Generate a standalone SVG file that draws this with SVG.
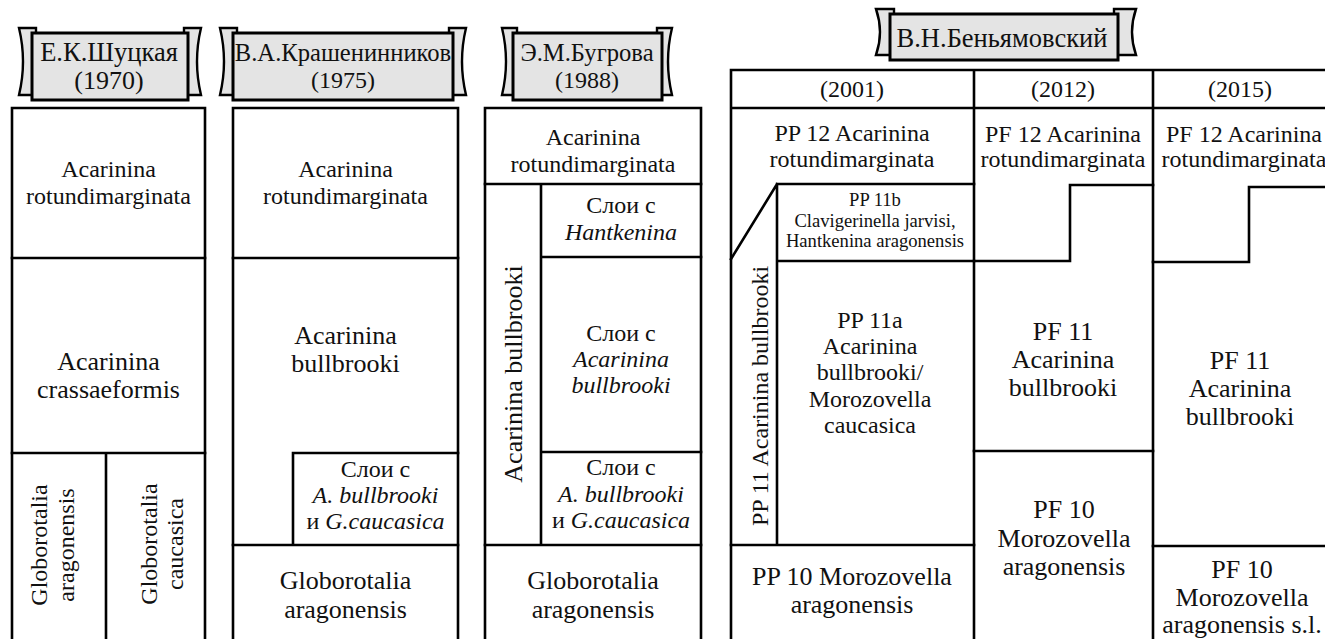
<svg xmlns="http://www.w3.org/2000/svg" width="1325" height="639" viewBox="0 0 1325 639">
  <defs>
    <style>
      .bg { fill: #ffffff; }
      .ln { fill: none; stroke: #000; stroke-width: 2.6; stroke-linecap: square; }
      .ribbon { fill: #e4e4e4; stroke: #000; stroke-width: 2.4; stroke-linejoin: miter; }
      .plate { fill: #e4e4e4; stroke: #000; stroke-width: 3; }
      text { font-family: "Liberation Serif", "Times New Roman", serif; font-size: 24px; fill: #111; text-anchor: middle; }
      text.lg { font-size: 26px; }
      text.sm { font-size: 18.6px; }
      .it { font-style: italic; }
    </style>
  </defs>
  <rect class="bg" x="0" y="0" width="1325" height="639"/>

  <!-- author banners: two notched tails behind a grey plate -->
  <g id="banner-shutskaya">
    <path class="ribbon" d="M19,28 L36,28 L36,95 L19,95 Q27,61.5 19,28 Z"/>
    <path class="ribbon" d="M201,28 L184,28 L184,95 L201,95 Q193,61.5 201,28 Z"/>
    <rect class="plate" x="32" y="33" width="156" height="67"/>
    <text x="109" y="61" style="font-size:26.5px">Е.К.Шуцкая</text>
    <text x="109" y="89" style="font-size:26px">(1970)</text>
  </g>
  <g id="banner-krasheninnikov">
    <path class="ribbon" d="M220,28 L237,28 L237,95 L220,95 Q228,61.5 220,28 Z"/>
    <path class="ribbon" d="M466,28 L449,28 L449,95 L466,95 Q458,61.5 466,28 Z"/>
    <rect class="plate" x="233" y="33" width="220" height="67"/>
    <text x="343" y="61" style="font-size:24.6px">В.А.Крашенинников</text>
    <text x="343" y="88">(1975)</text>
  </g>
  <g id="banner-bugrova">
    <path class="ribbon" d="M502,28 L517,28 L517,95 L502,95 Q510,61.5 502,28 Z"/>
    <path class="ribbon" d="M672,28 L657,28 L657,95 L672,95 Q664,61.5 672,28 Z"/>
    <rect class="plate" x="513" y="33" width="149" height="67"/>
    <text x="587" y="61" style="font-size:24.6px">Э.М.Бугрова</text>
    <text x="587" y="88">(1988)</text>
  </g>
  <g id="banner-benyamovsky">
    <path class="ribbon" d="M876,9 L894,9 L894,55 L876,55 Q884,32 876,9 Z"/>
    <path class="ribbon" d="M1136,9 L1114,9 L1114,55 L1136,55 Q1128,32 1136,9 Z"/>
    <rect class="plate" x="890" y="14" width="228" height="46"/>
    <text x="1002" y="47" style="font-size:26.5px">В.Н.Беньямовский</text>
  </g>

  <!-- zone boundaries -->
  <g id="connectors">
    <!-- column 1 -->
    <path class="ln" d="M12,645 L12,108 L205,108 L205,645"/>
    <path class="ln" d="M12,258 L205,258 M12,453 L205,453 M106,453 L106,645"/>
    <!-- column 2 -->
    <path class="ln" d="M233,645 L233,108 L458,108 L458,645"/>
    <path class="ln" d="M233,258 L458,258 M293,453 L458,453 M293,453 L293,545 M233,545 L458,545"/>
    <!-- column 3 -->
    <path class="ln" d="M485,645 L485,108 L701,108 L701,645"/>
    <path class="ln" d="M485,184 L701,184 M541,184 L541,545 M541,257 L701,257 M541,452 L701,452 M485,545 L701,545"/>
    <!-- column 4 frame and year header -->
    <path class="ln" d="M731,645 L731,70 L1335,70 M731,108 L1335,108 M974,70 L974,645 M1153,70 L1153,645"/>
    <!-- 2001 -->
    <path class="ln" d="M777,184 L974,184 M777,184 L777,545 M777,184 L731,259 M777,261 L974,261 M731,545 L974,545"/>
    <!-- 2012 -->
    <path class="ln" d="M974,261 L1070,261 L1070,185 L1153,185 M974,451 L1153,451"/>
    <!-- 2015 -->
    <path class="ln" d="M1153,262 L1249,262 L1249,187 L1335,187 M1153,546 L1335,546"/>
  </g>

  <g id="col-shutskaya">
    <text x="108.5" y="177">Acarinina</text>
    <text x="108.5" y="204">rotundimarginata</text>
    <text x="108.5" y="370" class="lg">Acarinina</text>
    <text x="108.5" y="398" class="lg">crassaeformis</text>
    <g transform="translate(47,545) rotate(-90)">
      <text x="0" y="0">Globorotalia</text>
      <text x="0" y="27">aragonensis</text>
    </g>
    <g transform="translate(157,544) rotate(-90)">
      <text x="0" y="0">Globorotalia</text>
      <text x="0" y="26">caucasica</text>
    </g>
  </g>

  <g id="col-krasheninnikov">
    <text x="345.5" y="177">Acarinina</text>
    <text x="345.5" y="204">rotundimarginata</text>
    <text x="345.5" y="344" class="lg">Acarinina</text>
    <text x="345.5" y="372" class="lg">bullbrooki</text>
    <text x="375.5" y="477">Слои с</text>
    <text x="375.5" y="503" class="it">A. bullbrooki</text>
    <text x="375.5" y="529">и <tspan class="it">G.caucasica</tspan></text>
    <text x="345.5" y="589" class="lg">Globorotalia</text>
    <text x="345.5" y="618" class="lg">aragonensis</text>
  </g>

  <g id="col-bugrova">
    <text x="593" y="145">Acarinina</text>
    <text x="593" y="172">rotundimarginata</text>
    <text x="621" y="213">Слои с</text>
    <text x="621" y="240" class="it">Hantkenina</text>
    <text x="621" y="341">Слои с</text>
    <text x="621" y="367" class="it">Acarinina</text>
    <text x="621" y="393" class="it">bullbrooki</text>
    <text x="621" y="475">Слои с</text>
    <text x="621" y="502" class="it">A. bullbrooki</text>
    <text x="621" y="528">и <tspan class="it">G.caucasica</tspan></text>
    <text x="593" y="589" class="lg">Globorotalia</text>
    <text x="593" y="618" class="lg">aragonensis</text>
    <text transform="translate(522,374) rotate(-90)" x="0" y="0" class="lg">Acarinina bullbrooki</text>
  </g>

  <g id="col-2001">
    <text x="852" y="97">(2001)</text>
    <text x="852" y="141">PP 12 Acarinina</text>
    <text x="852" y="167">rotundimarginata</text>
    <text x="875" y="206" class="sm">PP 11b</text>
    <text x="875" y="227" class="sm">Clavigerinella jarvisi,</text>
    <text x="875" y="247" class="sm">Hantkenina aragonensis</text>
    <text transform="translate(768,396) rotate(-90)" x="0" y="0">PP 11 Acarinina bullbrooki</text>
    <text x="870" y="328">PP 11a</text>
    <text x="870" y="354">Acarinina</text>
    <text x="870" y="380">bullbrooki/</text>
    <text x="870" y="407">Morozovella</text>
    <text x="870" y="433">caucasica</text>
    <text x="852" y="585" class="lg">PP 10 Morozovella</text>
    <text x="852" y="613" class="lg">aragonensis</text>
  </g>

  <g id="col-2012">
    <text x="1063" y="97">(2012)</text>
    <text x="1063" y="142">PF 12 Acarinina</text>
    <text x="1063" y="167">rotundimarginata</text>
    <text x="1063" y="340" class="lg">PF 11</text>
    <text x="1063" y="368" class="lg">Acarinina</text>
    <text x="1063" y="396" class="lg">bullbrooki</text>
    <text x="1064" y="518" class="lg">PF 10</text>
    <text x="1064" y="547" class="lg">Morozovella</text>
    <text x="1064" y="575" class="lg">aragonensis</text>
  </g>

  <g id="col-2015">
    <text x="1240" y="97">(2015)</text>
    <text x="1244" y="142">PF 12 Acarinina</text>
    <text x="1244" y="167">rotundimarginata</text>
    <text x="1240" y="369" class="lg">PF 11</text>
    <text x="1240" y="397" class="lg">Acarinina</text>
    <text x="1240" y="425" class="lg">bullbrooki</text>
    <text x="1242" y="578" class="lg">PF 10</text>
    <text x="1242" y="606" class="lg">Morozovella</text>
    <text x="1242" y="633" class="lg">aragonensis s.l.</text>
  </g>
</svg>
